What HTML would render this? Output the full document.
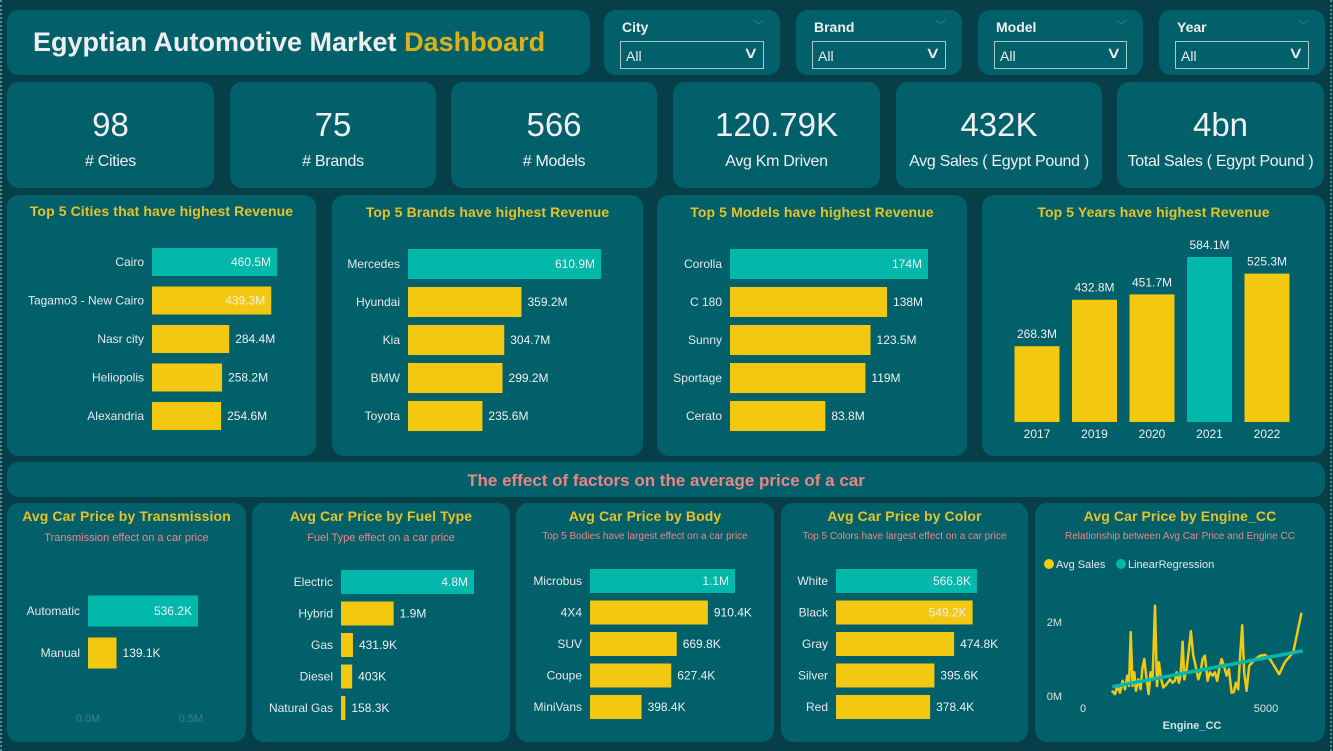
<!DOCTYPE html>
<html><head><meta charset="utf-8">
<style>
*{box-sizing:border-box;margin:0;padding:0}
body{width:1333px;height:751px;background:#063f47;position:relative;overflow:hidden;font-family:"Liberation Sans",sans-serif;color:#eee}
.card{position:absolute;background:#02606b;border-radius:12px}
.kv{position:absolute;left:0;right:0;top:24px;text-align:center;font-size:33px;color:#f0f0f0}
.kl{position:absolute;left:0;right:0;top:71px;text-align:center;font-size:16px;color:#f0f0f0;letter-spacing:-0.3px}
.sl-t{position:absolute;left:18px;top:9px;font-size:14px;font-weight:bold;color:#eee}
.sl-c{position:absolute;right:16px;top:7px;color:#2a8a90;font-size:11px}
.sl-b{position:absolute;left:16px;right:16px;top:31px;height:28px;border:1px solid #a8c8c8;font-size:14px;padding:6px 5px}
.sl-b span.ch{position:absolute;right:6px;top:1px;font-size:16px;transform:scaleX(1.4)}
.ttl{position:absolute;left:0;right:0;text-align:center;font-weight:bold;font-size:14px;color:#e6c229;letter-spacing:0.1px}
.sub{position:absolute;left:0;right:0;text-align:center;font-size:11px;color:#f08585}
svg#ov{position:absolute;left:0;top:0}
.dot{position:absolute;top:0;bottom:0;width:0;border-left:2px dotted #5a8a90}
</style></head><body>
<div class="dot" style="left:0"></div>
<div class="dot" style="left:1330px"></div>

<div class="card" style="left:7px;top:10px;width:583px;height:65px">
 <div style="position:absolute;left:26px;top:17px;font-size:27px;font-weight:bold;color:#eee">Egyptian Automotive Market <span style="color:#d9b21b">Dashboard</span></div>
</div>

<div class="card" style="left:604px;top:10px;width:176px;height:65px"><div class="sl-t">City</div><div class="sl-c">﹀</div><div class="sl-b">All<span class="ch">∨</span></div></div>
<div class="card" style="left:796px;top:10px;width:166px;height:65px"><div class="sl-t">Brand</div><div class="sl-c">﹀</div><div class="sl-b">All<span class="ch">∨</span></div></div>
<div class="card" style="left:978px;top:10px;width:165px;height:65px"><div class="sl-t">Model</div><div class="sl-c">﹀</div><div class="sl-b">All<span class="ch">∨</span></div></div>
<div class="card" style="left:1159px;top:10px;width:166px;height:65px"><div class="sl-t">Year</div><div class="sl-c">﹀</div><div class="sl-b">All<span class="ch">∨</span></div></div>

<div class="card" style="left:7px;top:82px;width:207px;height:106px"><div class="kv">98</div><div class="kl"># Cities</div></div>
<div class="card" style="left:230px;top:82px;width:206px;height:106px"><div class="kv">75</div><div class="kl"># Brands</div></div>
<div class="card" style="left:451px;top:82px;width:206px;height:106px"><div class="kv">566</div><div class="kl"># Models</div></div>
<div class="card" style="left:673px;top:82px;width:207px;height:106px"><div class="kv">120.79K</div><div class="kl">Avg Km Driven</div></div>
<div class="card" style="left:896px;top:82px;width:206px;height:106px"><div class="kv">432K</div><div class="kl">Avg Sales ( Egypt Pound )</div></div>
<div class="card" style="left:1117px;top:82px;width:207px;height:106px"><div class="kv">4bn</div><div class="kl">Total Sales ( Egypt Pound )</div></div>

<div class="card" style="left:7px;top:195px;width:309px;height:261px"><div class="ttl" style="top:8px">Top 5 Cities that have highest Revenue</div></div>
<div class="card" style="left:332px;top:195px;width:311px;height:261px"><div class="ttl" style="top:9px">Top 5 Brands have highest Revenue</div></div>
<div class="card" style="left:657px;top:195px;width:310px;height:261px"><div class="ttl" style="top:9px">Top 5 Models have highest Revenue</div></div>
<div class="card" style="left:982px;top:195px;width:343px;height:261px"><div class="ttl" style="top:9px">Top 5 Years have highest Revenue</div></div>

<div class="card" style="left:7px;top:462px;width:1318px;height:35px"><div style="position:absolute;left:0;right:0;top:9px;text-align:center;font-size:17px;font-weight:bold;color:#ea8585">The effect of factors on the average price of a car</div></div>

<div class="card" style="left:7px;top:503px;width:239px;height:239px"><div class="ttl" style="top:5px">Avg Car Price by Transmission</div><div class="sub" style="top:29px">Transmission effect on a car price</div></div>
<div class="card" style="left:252px;top:503px;width:258px;height:239px"><div class="ttl" style="top:5px">Avg Car Price by Fuel Type</div><div class="sub" style="top:29px">Fuel Type effect on a car price</div></div>
<div class="card" style="left:516px;top:503px;width:258px;height:239px"><div class="ttl" style="top:5px">Avg Car Price by Body</div><div class="sub" style="top:28px;font-size:10px">Top 5 Bodies have largest effect on a car price</div></div>
<div class="card" style="left:781px;top:503px;width:247px;height:239px"><div class="ttl" style="top:5px">Avg Car Price by Color</div><div class="sub" style="top:28px;font-size:10px">Top 5 Colors have largest effect on a car price</div></div>
<div class="card" style="left:1035px;top:503px;width:290px;height:239px"><div class="ttl" style="top:5px">Avg Car Price by Engine_CC</div><div class="sub" style="top:28px;font-size:10px">Relationship between Avg Car Price and Engine CC</div></div>

<svg id="ov" width="1333" height="751" xmlns="http://www.w3.org/2000/svg" font-family="Liberation Sans, sans-serif"></svg>

<script>
const cityCats=["Cairo","Tagamo3 - New Cairo","Nasr city","Heliopolis","Alexandria"];
const cityVals=[460.5e6,439.3e6,284.4e6,258.2e6,254.6e6];
const brandCats=["Mercedes","Hyundai","Kia","BMW","Toyota"];
const brandVals=[610.9e6,359.2e6,304.7e6,299.2e6,235.6e6];
const modelCats=["Corolla","C 180","Sunny","Sportage","Cerato"];
const modelVals=[174e6,138e6,123.5e6,119e6,83.8e6];
const yearCats=["2017","2019","2020","2021","2022"];
const yearVals=[268.3e6,432.8e6,451.7e6,584.1e6,525.3e6];
const transCats=["Automatic","Manual"];
const transVals=[536.2e3,139.1e3];
const transTicks=["0.0M","0.5M"];
const fuelCats=["Electric","Hybrid","Gas","Diesel","Natural Gas"];
const fuelVals=[4.8e6,1.9e6,431.9e3,403e3,158.3e3];
const bodyCats=["Microbus","4X4","SUV","Coupe","MiniVans"];
const bodyVals=[1.12e6,910.4e3,669.8e3,627.4e3,398.4e3];
const colorCats=["White","Black","Gray","Silver","Red"];
const colorVals=[566.8e3,549.2e3,474.8e3,395.6e3,378.4e3];
const engineCC=[783,874,938,1011,1083,1147,1211,1256,1302,1356,1402,1447,1511,1575,1620,1675,1739,1793,1848,1902,1966,2021,2075,2139,2194,2285,2376,2448,2512,2558,2621,2667,2721,2767,2831,2895,2949,3013,3076,3149,3213,3267,3331,3404,3468,3540,3604,3668,3722,3786,3850,3923,3986,4059,4123,4177,4241,4287,4350,4405,4469,4541,4632,4714,4833,4969,5106,5360,5515,5743,5970];
const enginePrice=[0.14,0.05,0.27,0.09,0.41,0.18,0.55,0.27,1.73,0.27,0.64,0.14,0.45,0.18,0.73,1.0,0.45,0.05,0.64,0.45,2.44,0.27,0.91,0.45,0.23,0.32,0.45,0.36,0.41,0.64,0.36,0.55,1.47,0.45,0.73,1.27,1.75,1.09,0.82,0.45,0.64,1.0,1.09,0.41,0.64,0.55,0.64,0.41,0.73,1.0,0.82,0.55,0.73,0.09,0.11,0.36,0.18,1.0,1.91,0.64,0.14,0.82,0.91,1.0,1.09,1.11,1.0,0.59,0.91,1.18,2.25];
const regCC=[800,6000];
const regPrice=[0.25,1.22];
const engineYTicks=[0,2];
const engineXTicks=[0,5000];

const svg=document.getElementById('ov');
const NS="http://www.w3.org/2000/svg";
const YEL="#f2c811",TEAL="#01b8aa";
function mk(tag,attrs,txt){const e=document.createElementNS(NS,tag);for(const k in attrs)e.setAttribute(k,attrs[k]);if(txt!==undefined)e.textContent=txt;svg.appendChild(e);return e;}
function fmt(v){let s,u;if(v>=1e6){s=(v/1e6).toFixed(1);u="M";}else{s=(v/1e3).toFixed(1);u="K";}if(s.endsWith(".0"))s=s.slice(0,-2);return s+u;}

function hbar(name,cats,vals,x0,pxMax,vmax,y0,step,h,fs){
  const sx=v=>v/vmax*pxMax;
  cats.forEach((c,i)=>{
    const cy=y0+i*step,w=sx(vals[i]);
    const r=mk('rect',{x:x0,y:cy-h/2,width:w,height:h,fill:i===0?TEAL:YEL});
    
    
    const l=mk('text',{x:x0-8,y:cy+4,'text-anchor':'end','font-size':fs,fill:'#e8e8e8'},c);
    
    
    const inside=vals[i]/vals[0]>0.9;
    const t=mk('text',{x:inside?x0+w-6:x0+w+6,y:cy+4,'text-anchor':inside?'end':'start','font-size':fs,fill:'#f0f0f0'},fmt(vals[i]));
    
    
  });
}
hbar('city',cityCats,cityVals,152,125,460.5e6,262,38.5,28,12);
hbar('brand',brandCats,brandVals,408,193,610.9e6,264,38,30,12);
hbar('model',modelCats,modelVals,730,198,174e6,264,38,30,12);
hbar('trans',transCats,transVals,88,110,536.2e3,611,42,31,12);
hbar('fuel',fuelCats,fuelVals,341,133,4.8e6,582,31.5,24,12);
hbar('body',bodyCats,bodyVals,590,145,1.12e6,581,31.5,24,12);
hbar('color',colorCats,colorVals,836,141,566.8e3,581,31.5,24,12);

const tsx=v=>88+v*206e-6;
[0,0.5e6].forEach((v,i)=>{const t=mk('text',{x:tsx(v),y:722,'text-anchor':'middle','font-size':11,fill:'#3f8088'},transTicks[i]);

});

const ySy=v=>422-v/584.1e6*165;
yearCats.forEach((c,i)=>{
  const cx=1037+i*57.5;
  const r=mk('rect',{x:cx-22.5,y:ySy(yearVals[i]),width:45,height:422-ySy(yearVals[i]),fill:i===3?TEAL:YEL});
  
  
  const t=mk('text',{x:cx,y:ySy(yearVals[i])-8,'text-anchor':'middle','font-size':12,fill:'#f0f0f0'},fmt(yearVals[i]));
  
  
  const l=mk('text',{x:cx,y:438,'text-anchor':'middle','font-size':12,fill:'#f0f0f0'},c);
  
  
});

const ex=cc=>1083+cc*0.0366;
const ey=m=>696-m*37;
[['Avg Sales',YEL,1049],['LinearRegression',TEAL,1121]].forEach((d,i)=>{
  const c=mk('circle',{cx:d[2],cy:564,r:5,fill:d[1]});
  
  
  const t=mk('text',{x:d[2]+7,y:568,'font-size':11,fill:'#e8e8e8'},d[0]);
  
  
});
engineYTicks.forEach((v,i)=>{const t=mk('text',{x:1062,y:ey(v)+4,'text-anchor':'end','font-size':11,fill:'#e0e0e0'},v+'M');

});
engineXTicks.forEach((v,i)=>{const t=mk('text',{x:ex(v),y:712,'text-anchor':'middle','font-size':11,fill:'#e0e0e0'},String(v));

});
const xt=mk('text',{x:1192,y:729,'text-anchor':'middle','font-size':11,'font-weight':'bold',fill:'#d8e4e6'},'Engine_CC');


const pts=engineCC.map((c,i)=>ex(c).toFixed(1)+','+ey(enginePrice[i]).toFixed(1)).join(' ');
const pl=mk('polyline',{points:pts,fill:'none',stroke:YEL,'stroke-width':2.5,'stroke-linejoin':'round'});


const rl=mk('line',{x1:ex(regCC[0]),y1:ey(regPrice[0]),x2:ex(regCC[1]),y2:ey(regPrice[1]),stroke:TEAL,'stroke-width':3.5});


</script>
</body></html>
